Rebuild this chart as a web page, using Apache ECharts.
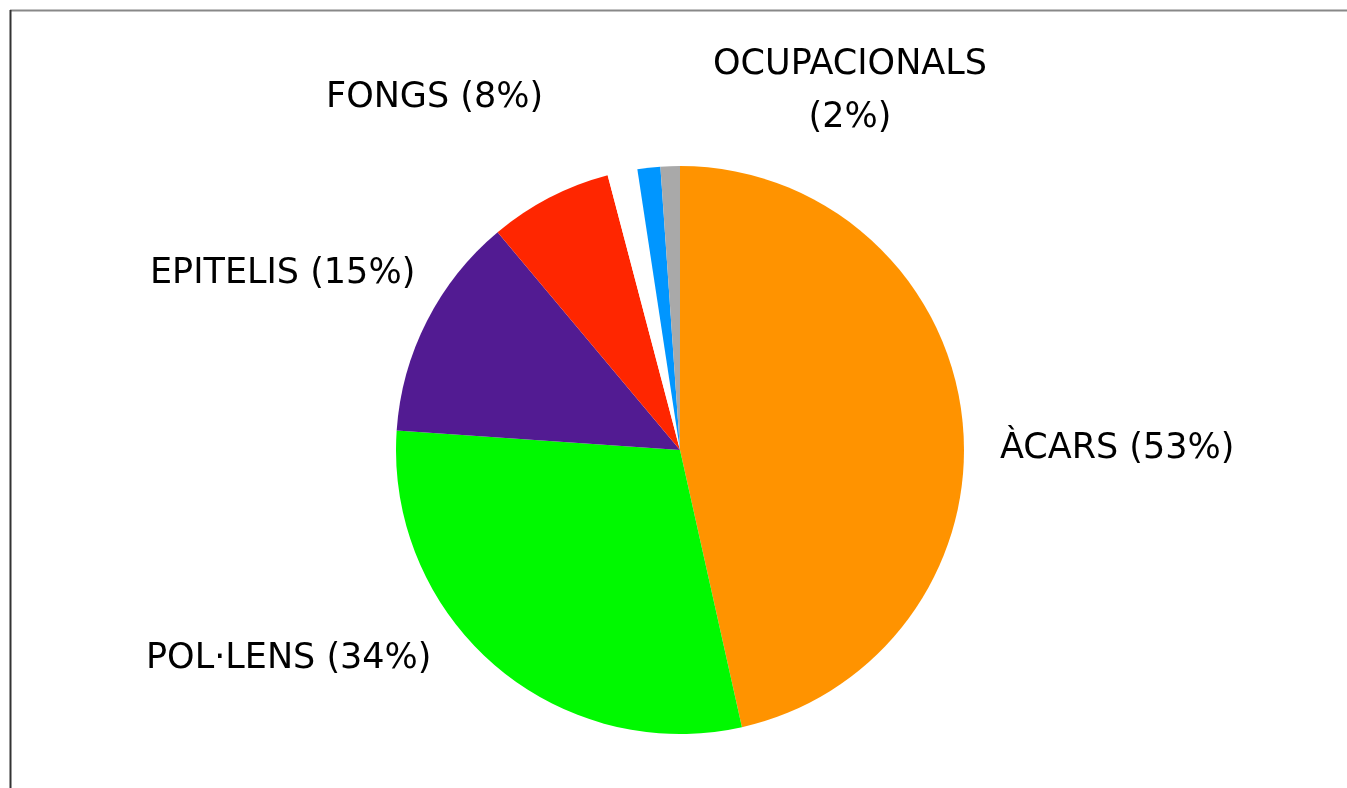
<!DOCTYPE html>
<html>
<head>
<meta charset="utf-8">
<script src="https://cdn.jsdelivr.net/npm/echarts@6/dist/echarts.min.js"></script>
<style>
  html, body { margin: 0; padding: 0; background: #fff; }
  #chart { width: 1347px; height: 788px; }
</style>
</head>
<body>
<div id="chart"></div>
<script>
// slice order: clockwise from 12 o'clock
const names = ['ÀCARS (53%)', 'POL·LENS (34%)', 'EPITELIS (15%)', 'FONGS (8%)', '', '', 'OCUPACIONALS\n(2%)'];
const values = [46.5, 29.6, 12.8, 7.0, 1.7, 1.3, 1.1];
const colors = ['#FF9300', '#00F900', '#521B92', '#FF2600', '#FFFFFF', '#0096FF', '#A9A9A9'];

// where each label sits (left x / vertical middle), by slice index
const labelSpots = {
  0: { x: 1000, y: 449, align: 'left' },
  1: { x: 146, y: 659, align: 'left' },
  2: { x: 150, y: 274, align: 'left' },
  3: { x: 326, y: 98, align: 'left' },
  6: { x: 850, y: 91, align: 'center' }
};

const chart = echarts.init(document.getElementById('chart'));

const option = {
  animation: false,
  backgroundColor: '#fff',
  graphic: [
    { type: 'line', shape: { x1: 10, y1: 10.5, x2: 1347, y2: 10.5 }, style: { stroke: '#888', lineWidth: 2 } },
    { type: 'line', shape: { x1: 10.5, y1: 10, x2: 10.5, y2: 788 }, style: { stroke: '#333', lineWidth: 2 } }
  ],
  series: [
    {
      type: 'pie',
      center: [680, 450],
      radius: 284,
      startAngle: 90,
      clockwise: true,
      avoidLabelOverlap: false,
      labelLine: { show: false },
      label: {
        show: true,
        position: 'outside',
        formatter: '{b}',
        fontFamily: 'DejaVu Sans',
        fontSize: 35,
        color: '#000',
        lineHeight: 53,
        align: 'left'
      },
      labelLayout: function (params) {
        const s = labelSpots[params.dataIndex];
        if (!s) return {};
        return { x: s.x, y: s.y, align: s.align, verticalAlign: 'middle' };
      },
      emphasis: { disabled: true },
      data: names.map((n, i) => ({
        name: n,
        value: values[i],
        itemStyle: { color: colors[i] },
        label: { show: !!n, align: labelSpots[i] ? labelSpots[i].align : 'left' }
      }))
    }
  ]
};

chart.setOption(option);
</script>
</body>
</html>
